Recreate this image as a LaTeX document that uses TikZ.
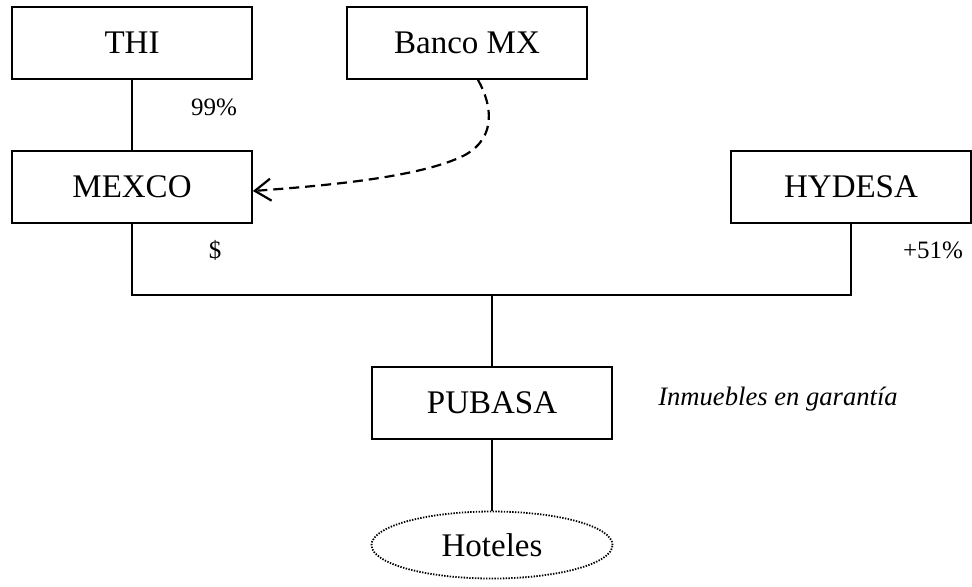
\documentclass[tikz,border=0pt]{standalone}
\usepackage{fontspec}
\setmainfont{Liberation Serif}
\usetikzlibrary{arrows.meta,shapes.geometric}
\begin{document}
\begin{tikzpicture}[x=0.5pt,y=-0.5pt,
  entity/.style={draw,line width=0.9pt,minimum width=120pt,minimum height=36pt,
    inner sep=0pt,font=\fontsize{16.5}{20}\selectfont},
  asset/.style={draw,ellipse,line width=0.9pt,dash pattern=on 0.7pt off 0.7pt,
    minimum width=120.5pt,minimum height=33.5pt,inner sep=0pt,
    font=\fontsize{16.5}{20}\selectfont},
  note/.style={inner sep=0pt,font=\fontsize{12.5}{15}\selectfont},
  link/.style={line width=0.9pt},
  loan/.style={line width=1.1pt,dash pattern=on 5pt off 3pt,
    -{Straight Barb[length=8pt,width=11pt,line width=1.1pt]}}]
  \useasboundingbox (0,0) rectangle (972,586);

  % companies
  \node[entity] (thi)    at (132,43)  {THI};
  \node[entity] (banco)  at (467,43)  {Banco MX};
  \node[entity] (mexco)  at (132,187) {MEXCO};
  \node[entity] (hydesa) at (851,187) {HYDESA};
  \node[entity] (pubasa) at (492,403) {PUBASA};
  \node[asset]  (hotel)  at (492,545) {Hoteles};

  % ownership lines
  \coordinate (join) at (492,295);
  \draw[link] (thi) -- (mexco);
  \draw[link] (mexco.south) |- (join) -| (hydesa.south);
  \draw[link] (join) -- (pubasa);
  \draw[link] (pubasa) -- (hotel);

  % credit from the bank
  \coordinate (loanstart) at ([xshift=5.5pt]banco.south);
  \draw[loan] (loanstart) .. controls (492,105) and (497,137) .. (465,155)
    .. controls (420,178) and (320,186) .. ([yshift=-2pt]mexco.east);

  % labels
  \node[note] (pthi)  at (214,107) {99\%};
  \node[note] (money) at (215,250) {\$};
  \node[note] (phyd)  at (933,250) {+51\%};
  \node[note,font=\fontsize{13.3}{16}\selectfont\itshape] (guar) at (778,399)
    {Inmuebles en garantía};
\end{tikzpicture}
\end{document}
